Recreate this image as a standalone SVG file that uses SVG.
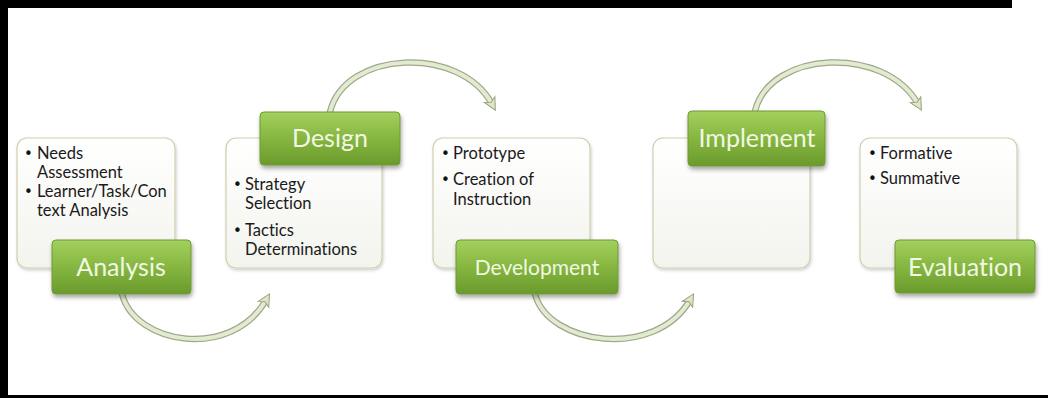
<svg xmlns="http://www.w3.org/2000/svg" width="1048" height="398" viewBox="0 0 1048 398">
<defs>
<linearGradient id="gGreen" x1="0" y1="0" x2="0" y2="1">
<stop offset="0" stop-color="#a2d05e"/>
<stop offset="0.5" stop-color="#86b640"/>
<stop offset="1" stop-color="#6a9a2c"/>
</linearGradient>
<linearGradient id="gBox" x1="0" y1="0" x2="0" y2="1">
<stop offset="0" stop-color="#ffffff"/>
<stop offset="1" stop-color="#f3f4ee"/>
</linearGradient>
<filter id="sh" x="-20%" y="-20%" width="140%" height="150%">
<feDropShadow dx="1" dy="3" stdDeviation="2" flood-color="#000" flood-opacity="0.35"/>
</filter>
<filter id="shb" x="-10%" y="-10%" width="120%" height="130%">
<feDropShadow dx="1" dy="2" stdDeviation="1.5" flood-color="#000" flood-opacity="0.18"/>
</filter>
<marker id="ah" markerWidth="16" markerHeight="16" refX="6" refY="8" orient="auto" markerUnits="userSpaceOnUse">
<path d="M1,2 L13,8 L1,14 L4,8 Z" fill="#dfe7c6" stroke="#98a27e" stroke-width="1"/>
</marker>
<style>
.box{fill:url(#gBox);stroke:#cfcfae;stroke-width:1.2;filter:url(#shb)}
.lbl{fill:url(#gGreen);stroke:#6f9a32;stroke-width:1;filter:url(#sh)}
.lt{font-family:Lato,"Open Sans",sans-serif;font-size:25px;fill:#f1f8e4;text-anchor:middle;font-variant-ligatures:none}
.bt{font-family:Lato,"Open Sans",sans-serif;font-size:16.5px;fill:#1a1a1a;font-variant-ligatures:none}
.bu{font-family:"DejaVu Sans",sans-serif;font-size:15px;fill:#111}
.arcO{fill:none;stroke:#9ea88a;stroke-width:6.5;stroke-linecap:round}
.arcI{fill:none;stroke:#e2ead0;stroke-width:4;stroke-linecap:round}
</style>
</defs>
<rect x="0" y="0" width="1048" height="398" fill="#ffffff"/>
<rect x="0" y="0" width="1012" height="8" fill="#000"/>
<rect x="0" y="0" width="8" height="398" fill="#000"/>
<rect x="0" y="395" width="1048" height="3" fill="#000"/>

<g id="connectors">
<path class="arcO" d="M122,294 C135,345 232,360 266,300"/>
<path class="arcI" d="M122,294 C135,345 232,360 266,300" marker-end="url(#ah)"/>
<path class="arcO" d="M330,112 C345,50 460,45 492,104"/>
<path class="arcI" d="M330,112 C345,50 460,45 492,104" marker-end="url(#ah)"/>
<path class="arcO" d="M535,294 C548,345 655,360 690,300"/>
<path class="arcI" d="M535,294 C548,345 655,360 690,300" marker-end="url(#ah)"/>
<path class="arcO" d="M755,111 C770,50 885,45 918,104"/>
<path class="arcI" d="M755,111 C770,50 885,45 918,104" marker-end="url(#ah)"/>
</g>

<g id="analysis">
<rect class="box" x="17" y="138" width="158" height="130" rx="10"/>
<text class="bu" x="24" y="159">•</text><text class="bt" x="37" y="159">Needs</text>
<text class="bt" x="37" y="178">Assessment</text>
<text class="bu" x="24" y="197">•</text><text class="bt" x="37" y="197">Learner/Task/Con</text>
<text class="bt" x="37" y="216">text Analysis</text>
<rect class="lbl" x="52" y="240" width="139" height="54" rx="4"/>
<text class="lt" x="121" y="276">Analysis</text>
</g>

<g id="design">
<rect class="box" x="226" y="138" width="156" height="130" rx="10"/>
<text class="bu" x="233" y="190">•</text><text class="bt" x="245" y="190">Strategy</text>
<text class="bt" x="245" y="209">Selection</text>
<text class="bu" x="233" y="236">•</text><text class="bt" x="245" y="236">Tactics</text>
<text class="bt" x="245" y="255">Determinations</text>
<rect class="lbl" x="260" y="112" width="140" height="53" rx="4"/>
<text class="lt" x="330" y="147">Design</text>
</g>

<g id="development">
<rect class="box" x="433" y="138" width="157" height="130" rx="10"/>
<text class="bu" x="441" y="159">•</text><text class="bt" x="453" y="159">Prototype</text>
<text class="bu" x="441" y="185">•</text><text class="bt" x="453" y="185">Creation of</text>
<text class="bt" x="453" y="205">Instruction</text>
<rect class="lbl" x="456" y="240" width="162" height="54" rx="4"/>
<text class="lt" x="537" y="275" style="font-size:21px">Development</text>
</g>

<g id="implement">
<rect class="box" x="653" y="138" width="157" height="130" rx="10"/>
<rect class="lbl" x="688" y="111" width="137" height="55" rx="4"/>
<text class="lt" x="757" y="147">Implement</text>
</g>

<g id="evaluation">
<rect class="box" x="860" y="138" width="157" height="130" rx="10"/>
<text class="bu" x="868" y="159">•</text><text class="bt" x="880" y="159">Formative</text>
<text class="bu" x="868" y="184">•</text><text class="bt" x="880" y="184">Summative</text>
<rect class="lbl" x="895" y="240" width="140" height="53" rx="4"/>
<text class="lt" x="965" y="276">Evaluation</text>
</g>
</svg>
